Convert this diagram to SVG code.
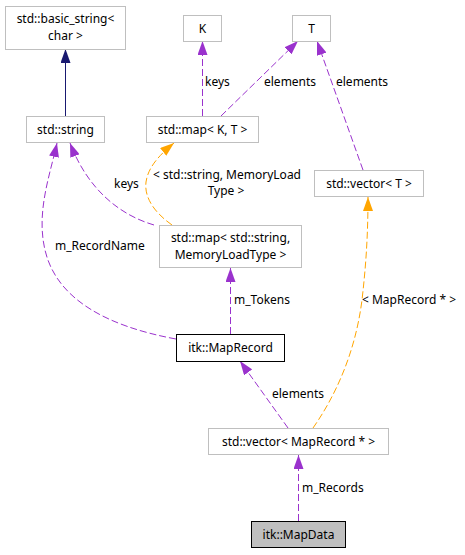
<svg xmlns="http://www.w3.org/2000/svg" width="465" height="555" viewBox="0 0 465 555">
<style>
text{font-family:"Noto Sans","Open Sans","DejaVu Sans",sans-serif;font-size:12px;fill:#000}
.n{text-anchor:middle}
.box{fill:#fff;stroke:#bfbfbf;stroke-width:1}
.bk{fill:#fff;stroke:#000;stroke-width:1}
.cur{fill:#bfbfbf;stroke:#000;stroke-width:1}
.e{fill:none;stroke:#9a32cd;stroke-width:1;stroke-dasharray:7,3}
.t{fill:none;stroke:#ffa500;stroke-width:1;stroke-dasharray:7,3}
.s{fill:none;stroke:#191970;stroke-width:1}
</style>
<defs>
<marker id="ap" markerUnits="userSpaceOnUse" markerWidth="14" markerHeight="10" refX="14" refY="5" orient="auto"><path d="M0,0 L14,5 L0,10 z" fill="#9a32cd"/></marker>
<marker id="ao" markerUnits="userSpaceOnUse" markerWidth="14" markerHeight="10" refX="14" refY="5" orient="auto"><path d="M0,0 L14,5 L0,10 z" fill="#ffa500"/></marker>
<marker id="an" markerUnits="userSpaceOnUse" markerWidth="14" markerHeight="10" refX="14" refY="5" orient="auto"><path d="M0,0 L14,5 L0,10 z" fill="#191970"/></marker>
</defs>
<g id="edges">
<path class="s" d="M65.5,116 L65.5,49" marker-end="url(#an)"/>
<path class="e" d="M202.5,116 L202.5,41" marker-end="url(#ap)"/>
<path class="e" d="M221,116 L298,41" marker-end="url(#ap)"/>
<path class="e" d="M363,170 L317,41" marker-end="url(#ap)"/>
<path class="e" d="M154,225 C120,215 88,190 70,143" marker-end="url(#ap)"/>
<path class="e" d="M176,339 C105,326 56,298 45,250 C36,212 50,175 57,143" marker-end="url(#ap)"/>
<path class="t" d="M172,225 C155,213 144,198 146,182 C148,168 158,156 174,143" marker-end="url(#ao)"/>
<path class="e" d="M230.5,334 L230.5,268" marker-end="url(#ap)"/>
<path class="e" d="M288,428 L240,361" marker-end="url(#ap)"/>
<path class="t" d="M313,428 C334,398 355,355 362,300 C366,265 368,235 368,197" marker-end="url(#ao)"/>
<path class="e" d="M298.5,521 L298.5,455" marker-end="url(#ap)"/>
<text x="205" y="86">keys</text>
<text x="264" y="86">elements</text>
<text x="336" y="86">elements</text>
<text x="114" y="188">keys</text>
<text class="n" x="227" y="179">&lt; std::string, MemoryLoad</text>
<text class="n" x="226" y="195">Type &gt;</text>
<text x="55" y="250">m_RecordName</text>
<text x="234" y="304">m_Tokens</text>
<text x="362" y="304">&lt; MapRecord * &gt;</text>
<text x="272" y="398">elements</text>
<text x="302" y="492">m_Records</text>
</g>
<g id="basic_string"><rect class="box" x="5.5" y="6.5" width="120" height="43"/><text class="n" x="65.5" y="23">std::basic_string&lt;</text><text class="n" x="65.5" y="39.5">char &gt;</text></g>
<g id="K"><rect class="box" x="183.5" y="15.5" width="38" height="26"/><text class="n" x="202.5" y="33">K</text></g>
<g id="T"><rect class="box" x="292.5" y="15.5" width="38" height="26"/><text class="n" x="311.5" y="33">T</text></g>
<g id="string"><rect class="box" x="26.5" y="116.5" width="78" height="26"/><text class="n" x="65.5" y="134">std::string</text></g>
<g id="mapKT"><rect class="box" x="146.5" y="116.5" width="112" height="26"/><text class="n" x="202.5" y="134">std::map&lt; K, T &gt;</text></g>
<g id="vectorT"><rect class="box" x="314.5" y="170.5" width="109" height="26"/><text class="n" x="369" y="188">std::vector&lt; T &gt;</text></g>
<g id="mapStr"><rect class="box" x="159.5" y="225.5" width="142" height="42"/><text class="n" x="230.5" y="242">std::map&lt; std::string,</text><text class="n" x="230.5" y="258.5">MemoryLoadType &gt;</text></g>
<g id="MapRecord"><rect class="bk" x="176.5" y="334.5" width="108" height="27"/><text class="n" x="230.5" y="352">itk::MapRecord</text></g>
<g id="vectorMR"><rect class="box" x="208.5" y="428.5" width="180" height="26"/><text class="n" x="298.5" y="446">std::vector&lt; MapRecord * &gt;</text></g>
<g id="MapData"><rect class="cur" x="251.5" y="521.5" width="94" height="26"/><text class="n" x="298.5" y="539">itk::MapData</text></g>
</svg>
